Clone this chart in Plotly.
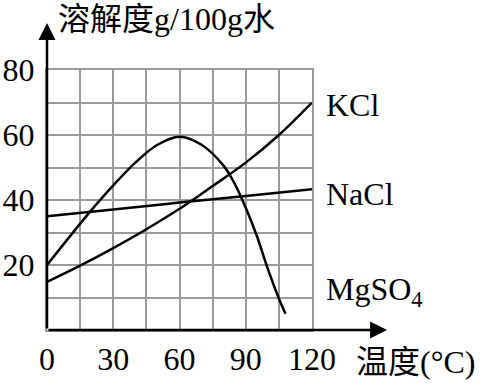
import plotly.graph_objects as go

# Temperature (°C) and solubility (g/100g water)
kcl_t = [0, 15, 30, 45, 60, 75, 90, 105, 120]
kcl_s = [14.8, 19.8, 25.2, 31.0, 37.3, 44.3, 51.5, 60.0, 70.0]

nacl_t = [0, 30, 60, 90, 120]
nacl_s = [35.0, 37.1, 39.2, 41.2, 43.3]

mgso4_t = [0, 10, 20, 30, 40, 50, 60, 70, 80, 85, 90, 95, 100, 105, 108]
mgso4_s = [20, 28.5, 36.8, 44.5, 51.5, 57.0, 59.5, 57.0, 50.5, 45.0, 37.6, 29.0, 18.8, 9.7, 5.0]

x_ticks = [0, 30, 60, 90, 120]
y_ticks = [20, 40, 60, 80]

series_labels = ["KCl", "NaCl", "MgSO<sub>4</sub>"]
label_y = [69.2, 42.0, 12.0]

FONT = "Liberation Serif, Times New Roman, Noto Sans CJK SC, serif"
GRID = "#9a9a9a"

fig = go.Figure()
for t, s in [(kcl_t, kcl_s), (nacl_t, nacl_s), (mgso4_t, mgso4_s)]:
    fig.add_trace(go.Scatter(x=t, y=s, mode="lines",
                             line=dict(color="black", width=2.5, shape="spline", smoothing=1.0),
                             showlegend=False, hoverinfo="skip", cliponaxis=False))

fig.update_layout(
    width=481, height=387,
    margin=dict(l=47, r=169, t=70, b=57, autoexpand=False),
    paper_bgcolor="white", plot_bgcolor="white",
    font=dict(family=FONT, size=32, color="black"),
    xaxis=dict(range=[0, 120], tickmode="array", tickvals=x_ticks, automargin=False,
               showgrid=True, gridcolor=GRID, gridwidth=2,
               minor=dict(dtick=15, tick0=0, showgrid=True, gridcolor=GRID, gridwidth=2),
               showline=True, mirror=True, linecolor=GRID, linewidth=2,
               zeroline=False, ticks="", ticklabelstandoff=0,
               tickfont=dict(family=FONT, size=32, color="black"), fixedrange=True),
    yaxis=dict(range=[0, 80], tickmode="array", tickvals=y_ticks, automargin=False,
               showgrid=True, gridcolor=GRID, gridwidth=2,
               minor=dict(dtick=10, tick0=0, showgrid=True, gridcolor=GRID, gridwidth=2),
               showline=True, mirror=True, linecolor=GRID, linewidth=2,
               zeroline=False, ticks="", ticklabelstandoff=4,
               tickfont=dict(family=FONT, size=32, color="black"), fixedrange=True),
)

# Axis arrows
fig.add_annotation(x=0, y=94.5, ax=0, ay=0, xref="x", yref="y", axref="x", ayref="y",
                   text="", showarrow=True, arrowhead=2, arrowwidth=2.5, arrowsize=1.36,
                   arrowcolor="black")
fig.add_annotation(x=154, y=0, ax=0, ay=0, xref="x", yref="y", axref="x", ayref="y",
                   text="", showarrow=True, arrowhead=2, arrowwidth=2.5, arrowsize=1.36,
                   arrowcolor="black")

# Series labels (paper coords: plot spans 265 px wide, 260 px tall)
for lab, yy in zip(series_labels, label_y):
    fig.add_annotation(x=1.045, y=yy / 80, xref="paper", yref="paper", text=lab, showarrow=False,
                       xanchor="left", yanchor="middle",
                       font=dict(family=FONT, size=32, color="black"))

# Axis titles
fig.add_annotation(x=0.035, y=1.195, xref="paper", yref="paper", text="溶解度g/100g水",
                   showarrow=False, xanchor="left", yanchor="middle",
                   font=dict(family=FONT, size=32, color="black"))
fig.add_annotation(x=1.158, y=-0.123, xref="paper", yref="paper", text="温度(°C)",
                   showarrow=False, xanchor="left", yanchor="middle",
                   font=dict(family=FONT, size=32, color="black"))

fig.write_html("out.html", config={"displayModeBar": False},
               post_script="document.body.style.margin='0';")
